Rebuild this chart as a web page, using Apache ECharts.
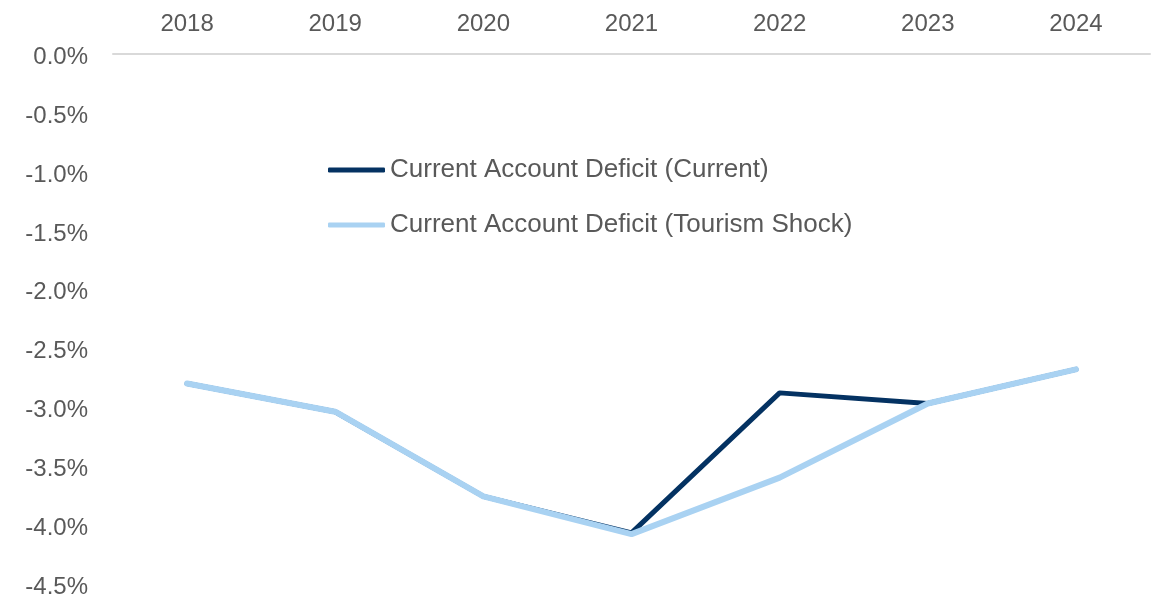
<!DOCTYPE html>
<html>
<head>
<meta charset="utf-8">
<script src="https://cdn.jsdelivr.net/npm/echarts@6/dist/echarts.min.js"></script>
<style>
  html, body { margin: 0; padding: 0; background: #fff; }
  #main { width: 1173px; height: 599px; }
</style>
</head>
<body>
<div id="main"></div>
<script>
// years along the top axis
var years = ['2018', '2019', '2020', '2021', '2022', '2023', '2024'];
// current account balance, % of GDP
var currentCase = [-2.80, -3.04, -3.76, -4.07, -2.88, -2.97, -2.68];
var tourismShock = [-2.80, -3.04, -3.76, -4.08, -3.60, -2.97, -2.68];
var seriesNames = ['Current Account Deficit (Current)', 'Current Account Deficit (Tourism Shock)'];

var chart = echarts.init(document.getElementById('main'));
var textColor = '#595959';
var fontFam = '"Liberation Sans", Arial, sans-serif';

var option = {
  backgroundColor: '#fff',
  animation: false,
  color: ['#043262', '#a9d2f2'],
  textStyle: { fontFamily: fontFam },
  grid: {
    left: 113,
    right: 23,
    top: 54,
    bottom: 15
  },
  legend: {
    orient: 'vertical',
    left: 328,
    top: 157,
    padding: 0,
    itemGap: 29,
    itemWidth: 57,
    itemHeight: 5,
    icon: 'roundRect',
    textStyle: { color: textColor, fontSize: 26, fontFamily: fontFam },
    data: seriesNames
  },
  xAxis: {
    type: 'category',
    position: 'top',
    data: years,
    boundaryGap: true,
    axisLine: { show: true, lineStyle: { color: '#d9d9d9', width: 2 } },
    axisTick: { show: false },
    axisLabel: { color: textColor, fontSize: 24, margin: 18, fontFamily: fontFam }
  },
  yAxis: {
    type: 'value',
    min: -4.5,
    max: 0,
    interval: 0.5,
    axisLine: { show: false },
    axisTick: { show: false },
    splitLine: { show: false },
    axisLabel: {
      color: textColor,
      fontSize: 24,
      margin: 25,
      fontFamily: fontFam,
      formatter: function (v) { return '{p|' + v.toFixed(1) + '%}'; },
      rich: {
        p: { color: textColor, fontSize: 24, fontFamily: fontFam, padding: [7, 0, 0, 0] }
      }
    }
  },
  series: [{
    name: seriesNames[0],
    type: 'line',
    data: currentCase,
    symbol: 'none',
    lineStyle: { width: 5, color: '#043262', join: 'round', cap: 'round' },
    itemStyle: { color: '#043262' }
  }, {
    name: seriesNames[1],
    type: 'line',
    data: tourismShock,
    symbol: 'none',
    lineStyle: { width: 6, color: '#a9d2f2', join: 'round', cap: 'round' },
    itemStyle: { color: '#a9d2f2' }
  }]
};

chart.setOption(option);
</script>
</body>
</html>
